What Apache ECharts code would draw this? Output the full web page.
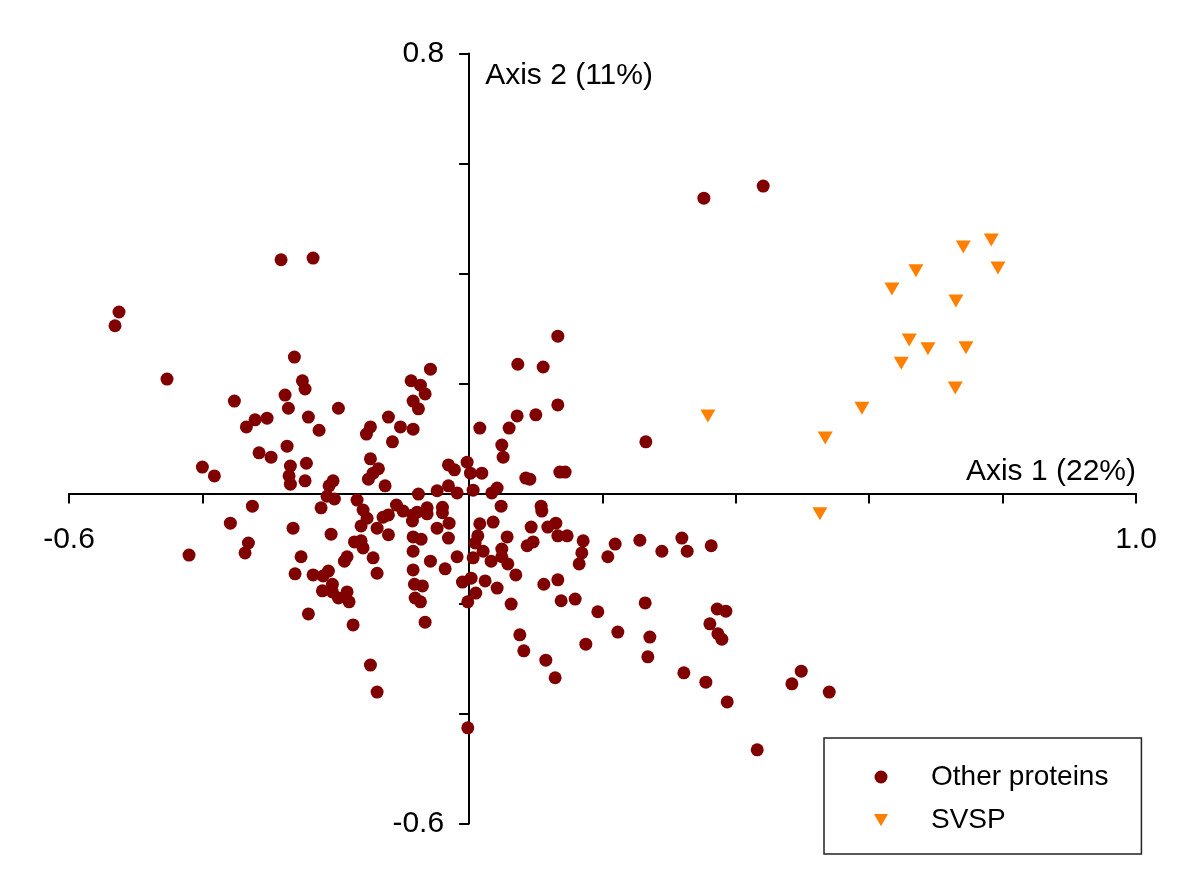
<!DOCTYPE html>
<html>
<head>
<meta charset="utf-8">
<script src="https://cdn.jsdelivr.net/npm/echarts@6/dist/echarts.min.js"></script>
<style>html,body{margin:0;padding:0;background:#fff}#c{width:1200px;height:891px}</style>
</head>
<body>
<div id="c"></div>
<script>
// ---- data ----
const otherX = [
-0.282,-0.525,-0.531,-0.453,-0.352,-0.276,-0.271,-0.321,-0.303,-0.334,
-0.234,-0.273,-0.315,-0.297,-0.400,-0.382,-0.325,-0.358,-0.331,-0.336,
-0.420,-0.262,-0.250,-0.246,-0.241,-0.225,-0.196,-0.058,-0.087,-0.073,
-0.066,-0.084,-0.076,-0.121,-0.103,-0.084,-0.115,-0.148,-0.154,-0.268,
-0.244,-0.268,-0.270,-0.246,-0.148,-0.136,-0.144,-0.151,-0.126,-0.204,
-0.210,-0.213,-0.202,-0.168,-0.076,-0.048,-0.031,-0.018,-0.031,-0.022,
-0.003,0.002,0.006,0.016,-0.222,-0.159,-0.153,-0.162,-0.138,-0.129,
-0.121,-0.109,-0.099,-0.084,-0.085,-0.078,-0.063,-0.063,-0.040,-0.040,
-0.030,-0.048,-0.121,-0.084,-0.072,-0.031,-0.207,-0.264,-0.172,-0.162,
-0.159,-0.144,-0.183,-0.187,-0.252,-0.261,-0.234,-0.219,-0.211,-0.205,
-0.220,-0.205,-0.196,-0.183,-0.180,-0.241,-0.174,-0.138,-0.084,-0.058,
-0.084,-0.082,-0.070,-0.081,-0.073,-0.036,-0.018,-0.010,0.003,-0.002,
0.006,0.009,0.013,0.016,0.010,-0.066,-0.148,-0.138,-0.002,0.133,
0.073,0.111,0.133,0.072,0.100,0.060,0.049,0.051,0.265,0.136,
0.144,0.085,0.091,0.019,0.034,0.042,0.048,0.108,0.109,0.036,
0.057,0.093,0.118,0.130,0.133,0.147,0.171,0.169,0.165,0.219,
0.208,0.256,0.289,0.087,0.096,0.021,0.049,0.049,0.033,0.058,
0.070,0.024,0.042,0.112,0.133,0.138,0.159,0.063,0.193,0.264,
0.223,0.175,0.271,0.268,0.076,0.082,0.115,0.129,0.319,0.327,
0.363,0.372,0.385,0.361,0.373,0.379,0.322,0.355,0.387,0.498,
0.484,0.540,0.432,0.352,0.441
];
const otherY = [
0.425,0.330,0.305,0.208,0.168,0.179,0.155,0.134,0.137,0.121,
0.428,0.086,0.074,0.066,0.048,0.032,-0.023,-0.054,-0.090,-0.108,
-0.112,0.248,0.205,0.190,0.139,0.115,0.155,0.226,0.205,0.197,
0.181,0.168,0.154,0.139,0.121,0.117,0.094,0.121,0.108,0.050,
0.055,0.017,0.032,0.023,0.063,0.045,0.037,0.026,0.014,0.023,
0.014,-0.005,-0.010,-0.012,-0.001,0.005,0.014,0.001,0.052,0.043,
0.057,0.037,0.006,0.119,-0.026,-0.030,-0.045,-0.059,-0.063,-0.043,
-0.039,-0.021,-0.032,-0.039,-0.050,-0.034,-0.026,-0.037,-0.025,-0.035,
-0.054,-0.063,-0.075,-0.079,-0.083,-0.081,-0.074,-0.063,-0.088,-0.086,
-0.099,-0.117,-0.115,-0.123,-0.115,-0.146,-0.148,-0.150,-0.141,-0.165,
-0.177,-0.179,-0.190,-0.179,-0.197,-0.219,-0.239,-0.145,-0.105,-0.123,
-0.139,-0.165,-0.168,-0.190,-0.197,-0.137,-0.115,-0.161,-0.154,-0.197,
-0.117,-0.090,-0.077,-0.055,-0.181,-0.234,-0.312,-0.361,-0.426,0.286,
0.235,0.230,0.161,0.141,0.143,0.119,0.088,0.066,0.094,0.039,
0.039,0.028,0.026,0.037,0.001,0.010,-0.023,-0.023,-0.032,-0.052,
-0.079,-0.061,-0.061,-0.054,-0.077,-0.077,-0.086,-0.108,-0.128,-0.092,
-0.115,-0.085,-0.105,-0.095,-0.088,-0.105,-0.101,-0.115,-0.123,-0.128,
-0.148,-0.159,-0.172,-0.165,-0.157,-0.195,-0.192,-0.201,-0.215,-0.199,
-0.252,-0.274,-0.261,-0.297,-0.257,-0.286,-0.303,-0.335,-0.081,-0.105,
-0.095,-0.210,-0.214,-0.237,-0.255,-0.265,-0.326,-0.343,-0.379,-0.323,
-0.346,-0.361,-0.466,0.537,0.559
];
const svspX = [0.358,0.534,0.589,0.648,0.660,0.688,0.745,0.729,0.730,0.634,0.670,0.741,0.783,0.793,0.526];
const svspY = [0.141,0.101,0.155,0.237,0.279,0.263,0.265,0.192,0.350,0.372,0.405,0.448,0.461,0.410,-0.037];
const seriesNames = ['Other proteins', 'SVSP'];
const axisTitles = ['Axis 1 (22%)', 'Axis 2 (11%)'];
const xRange = [-0.6, 1.0];
const yRange = [-0.6, 0.8];
const tickStep = 0.2;

// ---- layout ----
const FONT = 'Arial, "Liberation Sans", Helvetica, sans-serif';
const W = 1200, H = 891;
const G = {left: 69, right: 64, top: 53.5, bottom: 67.5};
const gridW = W - G.left - G.right, gridH = H - G.top - G.bottom;
// place each axis at the other axis' zero value
const yAxisOffset = -((0 - xRange[0]) / (xRange[1] - xRange[0])) * gridW;
const xAxisOffset = -((0 - yRange[0]) / (yRange[1] - yRange[0])) * gridH;

const pairs = (xs, ys) => xs.map((x, i) => [x, ys[i]]);
const near = (a, b) => Math.abs(a - b) < 1e-6;
const tri = 'path://M0,0L16,0L8,14Z';

const chart = echarts.init(document.getElementById('c'), null, {renderer: 'canvas'});
chart.setOption({
  animation: false,
  backgroundColor: '#ffffff',
  grid: Object.assign({containLabel: false, outerBoundsMode: 'none'}, G),
  xAxis: {
    type: 'value', min: xRange[0], max: xRange[1], interval: tickStep,
    position: 'bottom', offset: xAxisOffset,
    splitLine: {show: false},
    axisLine: {onZero: false, lineStyle: {color: '#000', width: 2}},
    axisTick: {length: 10, lineStyle: {color: '#000', width: 2}},
    axisLabel: {
      margin: 31, fontSize: 30, color: '#000', fontFamily: FONT,
      formatter: v => (near(v, xRange[0]) || near(v, xRange[1])) ? v.toFixed(1) : ''
    },
    name: axisTitles[0], nameLocation: 'end', nameGap: 0,
    nameTextStyle: {fontSize: 30, color: '#000', fontFamily: FONT, align: 'right', verticalAlign: 'bottom', padding: [0, 0, 7, 0]}
  },
  yAxis: {
    type: 'value', min: yRange[0], max: yRange[1], interval: tickStep,
    position: 'left', offset: yAxisOffset,
    splitLine: {show: false},
    axisLine: {onZero: false, lineStyle: {color: '#000', width: 2}},
    axisTick: {length: 10, lineStyle: {color: '#000', width: 2}},
    axisLabel: {
      margin: 25, fontSize: 30, color: '#000', fontFamily: FONT,
      formatter: v => (near(v, yRange[0]) || near(v, yRange[1])) ? v.toFixed(1) : ''
    },
    name: axisTitles[1], nameLocation: 'end', nameGap: 0,
    nameTextStyle: {fontSize: 30, color: '#000', fontFamily: FONT, align: 'left', verticalAlign: 'top', padding: [7, 0, 0, 16]}
  },
  legend: {
    left: 824, top: 738, orient: 'vertical',
    borderColor: '#222', borderWidth: 1.5,
    padding: [25, 33, 20, 50],
    itemGap: 15, itemWidth: 14, itemHeight: 13,
    textStyle: {fontSize: 28, color: '#000', fontFamily: FONT, padding: [0, 0, 0, 38]},
    data: [{name: seriesNames[0], icon: 'circle'}, {name: seriesNames[1], icon: tri}]
  },
  series: [
    {name: seriesNames[0], type: 'scatter', symbol: 'circle', symbolSize: 13,
     itemStyle: {color: '#800000', opacity: 1}, data: pairs(otherX, otherY)},
    {name: seriesNames[1], type: 'scatter', symbol: tri, symbolSize: [15, 13],
     itemStyle: {color: '#ff8000', opacity: 1}, data: pairs(svspX, svspY)}
  ]
});
</script>
</body>
</html>
